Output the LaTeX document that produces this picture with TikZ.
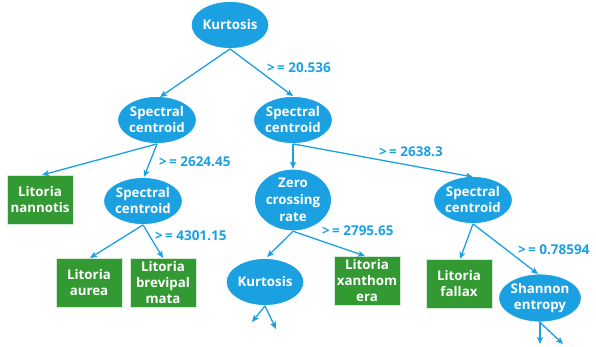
\documentclass[tikz,border=0pt]{standalone}
\usepackage{fontspec}
\setmainfont{Open Sans}
\usetikzlibrary{arrows.meta,shapes.geometric}
\definecolor{nodeblue}{HTML}{1BA1E2}
\definecolor{leafgreen}{HTML}{339933}
\tikzset{
  split/.style={ellipse, fill=nodeblue, draw=white, line width=0.8pt, minimum width=71pt, minimum height=47pt, inner sep=0pt,
    text=white, font=\bfseries\fontsize{13.3}{16}\selectfont, align=center},
  leaf/.style={rectangle, fill=leafgreen, draw=white!80!leafgreen, line width=0.8pt, minimum width=66pt, minimum height=49pt, inner sep=0pt,
    text=white, font=\bfseries\fontsize{13.3}{16}\selectfont, align=center},
  edge/.style={draw=nodeblue, line width=1.3pt, -{Stealth[length=7pt,width=6pt,inset=1.5pt]}},
  cond/.style={text=nodeblue, font=\bfseries\fontsize{13.5}{15}\selectfont, anchor=west, inner sep=0pt}
}
\begin{document}
\begin{tikzpicture}[x=1pt,y=-1pt]
\useasboundingbox (0,0) rectangle (596,347);
% split nodes
\node[split] (k1) at (230,25) {Kurtosis};
\node[split] (sc1) at (157,120) {Spectral\\centroid};
\node[split] (sc2) at (293,120) {Spectral\\centroid};
\node[split] (sc3) at (143,201) {Spectral\\centroid};
\node[split, font=\bfseries\fontsize{13.3}{17}\selectfont] (zcr) at (293,200) {Zero\\crossing\\rate};
\node[split] (sc4) at (473,200) {Spectral\\centroid};
\node[split] (k2) at (265,282) {Kurtosis};
\node[split, minimum width=72pt, minimum height=48pt] (se) at (540,298) {Shannon\\entropy};
% leaves
\node[leaf] (ln) at (40,200) {Litoria\\nannotis};
\node[leaf] (la) at (89,283) {Litoria\\aurea};
\node[leaf] (lb) at (163,283) {Litoria\\brevipal\\mata};
\node[leaf] (lx) at (367,281) {Litoria\\xanthom\\era};
\node[leaf] (lf) at (459,284) {Litoria\\fallax};
% loose ends
\coordinate (k2a) at (252,322);
\coordinate (k2b) at (276,329);
\coordinate (sea) at (540,344);
\coordinate (seb) at (563,344);
% connectors
\draw[edge] (k1.south) -- (160,97);
\draw[edge] (k1.south) -- (sc2.north);
\draw[edge] (sc1.south) -- (42,175);
\draw[edge] (sc1.south) -- (144,177);
\draw[edge] (sc3.south) -- (90,258);
\draw[edge] (sc3.south) -- (163,258);
\draw[edge] (sc2.south) -- (zcr.north);
\draw[edge] (sc2.south) -- (473,177);
\draw[edge] (zcr.south) -- (267,257);
\draw[edge] (zcr.south) -- (365,256);
\draw[edge] (sc4.south) -- (460,259);
\draw[edge] (sc4.south) -- (538,274);
\draw[edge] (k2.south) -- (k2a);
\draw[edge] (k2.south) -- (k2b);
\draw[edge] (se.south) -- (sea);
\draw[edge] (se.south) -- (seb);
% split conditions
\node[cond] (c1) at (267,68) {>\,= 20.536};
\node[cond] (c2) at (159,162) {>\,= 2624.45};
\node[cond] (c3) at (155,236) {>\,= 4301.15};
\node[cond] (c4) at (379,152) {>\,= 2638.3};
\node[cond] (c5) at (322,231) {>\,= 2795.65};
\node[cond] (c6) at (518,250) {>\,= 0.78594};
\end{tikzpicture}
\end{document}
